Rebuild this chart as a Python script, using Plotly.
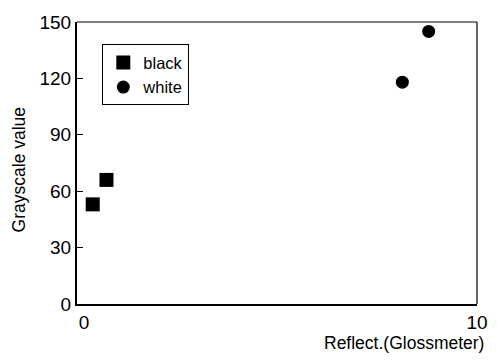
import plotly.graph_objects as go

black_x = [0.22, 0.57]
black_y = [53, 66]
white_x = [8.1, 8.77]
white_y = [118, 145]
y_ticks = [0, 30, 60, 90, 120, 150]
x_ticks = [0, 10]

fig = go.Figure()
fig.add_trace(go.Scatter(x=black_x, y=black_y, mode="markers", name="black",
                         marker=dict(symbol="square", size=14, color="black")))
fig.add_trace(go.Scatter(x=white_x, y=white_y, mode="markers", name="white",
                         marker=dict(symbol="circle", size=13, color="black")))

L, R, T, B = 77, 488, 14, 304
PW, PH = R - L, B - T

def px(x):
    return (x - L) / PW

def py(y):
    return (B - y) / PH

font = dict(family="Liberation Sans, Arial, sans-serif", size=18, color="black")
fig.update_layout(
    width=500, height=360,
    margin=dict(l=L, r=500 - R, t=T, b=360 - B),
    plot_bgcolor="white", paper_bgcolor="white",
    font=font,
    showlegend=True,
    legend=dict(x=px(103), y=py(37), xanchor="left", yanchor="top",
                bordercolor="black", borderwidth=1, bgcolor="white",
                font=dict(size=16.5), itemwidth=30, tracegroupgap=0),
    xaxis=dict(range=[-0.18, 10], tickvals=x_ticks, ticks="", showgrid=False,
               zeroline=False, showline=True, linecolor="black", linewidth=2,
               mirror=False, tickfont=dict(size=19)),
    yaxis=dict(range=[0, 150], tickvals=y_ticks, ticks="inside", ticklen=6,
               tickcolor="black", showgrid=False, zeroline=False, showline=True,
               linecolor="black", linewidth=2, mirror=False, tickfont=dict(size=19)),
    shapes=[
        dict(type="line", xref="paper", yref="paper", x0=0, x1=1, y0=1, y1=1,
             line=dict(color="black", width=1.2)),
        dict(type="line", xref="paper", yref="paper", x0=1, x1=1, y0=0, y1=1,
             line=dict(color="black", width=1.2)),
    ],
    annotations=[
        dict(text="Grayscale value", x=px(17), y=py(166), xref="paper", yref="paper",
             xanchor="center", yanchor="middle",
             showarrow=False, textangle=-90, font=dict(size=17.5)),
        dict(text="Reflect.(Glossmeter)", x=px(497), y=py(344), xref="paper", yref="paper",
             xanchor="right", yanchor="middle", showarrow=False, font=dict(size=17.5)),
    ],
)
fig.write_html("out.html")
